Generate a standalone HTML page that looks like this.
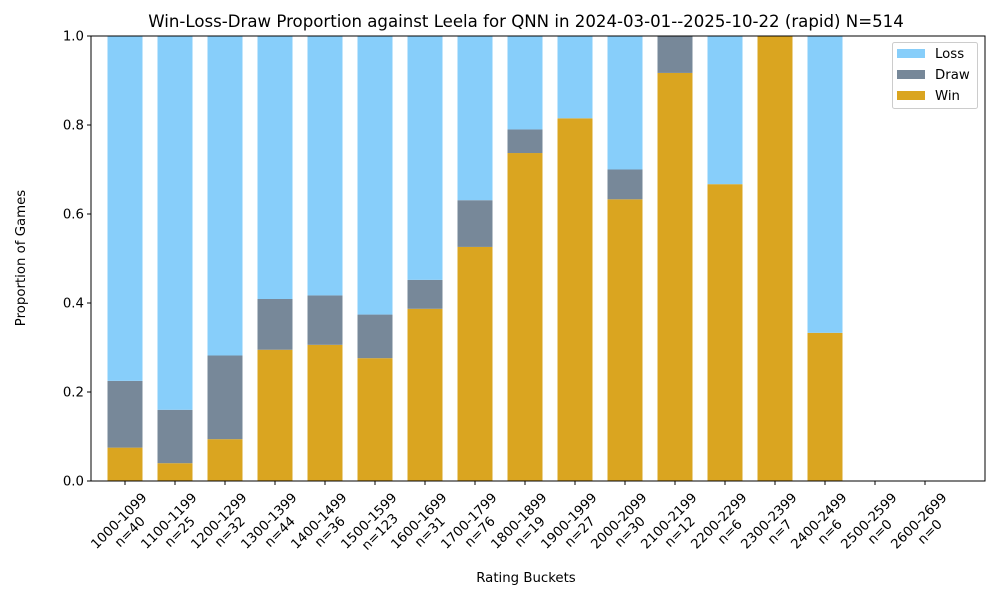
<!DOCTYPE html>
<html><head><meta charset="utf-8"><style>
body{margin:0;background:#fff}
</style></head><body>
<svg id="chart" width="1000" height="600" xmlns="http://www.w3.org/2000/svg" font-family="DejaVu Sans, Liberation Sans, sans-serif">
<rect width="1000" height="600" fill="#fff"/>
<text x="526" y="27" font-size="16.6" text-anchor="middle">Win-Loss-Draw Proportion against Leela for QNN in 2024-03-01--2025-10-22 (rapid) N=514</text>
<g id="bars"></g>
<g id="axes"></g>
<text x="526" y="582" font-size="13.3" text-anchor="middle">Rating Buckets</text>
<text transform="translate(25,258) rotate(-90)" font-size="13.3" text-anchor="middle">Proportion of Games</text>
<g>
<rect x="892.5" y="42.5" width="85" height="66" fill="#fff" stroke="#ccc" rx="2"/>
<rect x="897" y="49" width="28" height="9" fill="#87cefa"/><text x="935" y="58" font-size="13.3">Loss</text>
<rect x="897" y="70" width="28" height="9" fill="#778899"/><text x="935" y="79" font-size="13.3">Draw</text>
<rect x="897" y="91" width="28" height="9" fill="#daa520"/><text x="935" y="100" font-size="13.3">Win</text>
</g>
</svg>
<script>
const categories=["1000-1099","1100-1199","1200-1299","1300-1399","1400-1499","1500-1599","1600-1699","1700-1799","1800-1899","1900-1999","2000-2099","2100-2199","2200-2299","2300-2399","2400-2499","2500-2599","2600-2699"];
const counts=[40,25,32,44,36,123,31,76,19,27,30,12,6,7,6,0,0];
const winProp=[0.075,0.04,0.094,0.295,0.306,0.276,0.387,0.526,0.737,0.815,0.633,0.917,0.667,1.0,0.333,0,0];
const drawProp=[0.15,0.12,0.188,0.114,0.111,0.098,0.065,0.105,0.053,0,0.067,0.083,0,0,0,0,0];
const yTicks=[0,0.2,0.4,0.6,0.8,1.0];
const NS="http://www.w3.org/2000/svg";
const L=91,R=985,T=36,B=481;
const xc=i=>125+i*50;
const y=v=>B-v*(B-T);
const bw=35;
const bars=document.getElementById('bars'),axes=document.getElementById('axes');
function mk(tag,attrs,parent){const e=document.createElementNS(NS,tag);for(const k in attrs)e.setAttribute(k,attrs[k]);parent.appendChild(e);return e;}
categories.forEach((c,i)=>{
  if(counts[i]===0)return;
  const w=winProp[i],d=drawProp[i];
  let r=mk('rect',{x:xc(i)-bw/2,y:y(w),width:bw,height:y(0)-y(w),fill:'#daa520'},bars);
  
  
  r=mk('rect',{x:xc(i)-bw/2,y:y(w+d),width:bw,height:y(w)-y(w+d),fill:'#778899'},bars);
  
  
  r=mk('rect',{x:xc(i)-bw/2,y:y(1),width:bw,height:y(w+d)-y(1),fill:'#87cefa'},bars);
  
  
});
const frame=mk('rect',{x:L,y:T,width:R-L,height:B-T,fill:'none',stroke:'#000','stroke-width':1},axes);


yTicks.forEach(v=>{
  mk('line',{x1:L-4,x2:L,y1:y(v),y2:y(v),stroke:'#000'},axes);
  const t=mk('text',{x:L-7,y:y(v)+4.5,'font-size':13.3,'text-anchor':'end'},axes);
  t.textContent=v.toFixed(1);
  
  
});
categories.forEach((c,i)=>{
  const x=xc(i);
  mk('line',{x1:x,x2:x,y1:B,y2:B+4,stroke:'#000'},axes);
  const t=mk('text',{'font-size':13.3,'text-anchor':'middle',transform:`translate(${x-3},${B+43}) rotate(-45)`},axes);
  
  
  const a=mk('tspan',{x:0,dy:0},t);a.textContent=c;
  const b=mk('tspan',{x:0,dy:15.5},t);b.textContent='n='+counts[i];
});
</script>
</body></html>
